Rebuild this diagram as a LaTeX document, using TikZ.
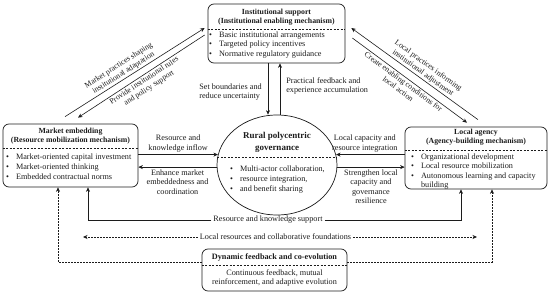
\documentclass[tikz,border=0pt]{standalone}
\usepackage{fontspec}
\setmainfont{Liberation Serif}
\usepackage{tikz}
\usetikzlibrary{positioning, arrows.meta, shapes.geometric, calc}
\definecolor{ink}{RGB}{28,28,28}
\tikzset{
  box/.style      ={rectangle, rounded corners=6pt, draw=ink, line width=0.7pt, inner sep=0pt},
  govshape/.style ={ellipse, draw=ink, line width=0.7pt, inner sep=0pt,
                    minimum width=120pt, minimum height=100pt},
  boxtitle/.style ={font=\fontsize{7.8}{9}\selectfont\bfseries, align=center, inner sep=0pt, text=ink},
  boxlist/.style  ={font=\fontsize{8.2}{9.6}\selectfont, inner sep=0pt, anchor=west, text=ink},
  sep/.style      ={dash pattern=on 2pt off 1.5pt, line width=0.5pt, color=ink},
  arr/.style      ={->, >={Stealth[length=4.5pt, width=4pt]}, line width=0.6pt, color=ink},
  darr/.style     ={arr, dash pattern=on 1.5pt off 1.5pt},
  lbl/.style      ={font=\fontsize{8.2}{9.6}\selectfont, align=center, inner sep=2pt, text=ink},
  slbl/.style     ={lbl, font=\fontsize{7.8}{9}\selectfont, inner sep=1.5pt, sloped},
}
\newcommand{\blist}[1]{\begin{tabular}{@{}l@{\hspace{7pt}}l@{}}#1\end{tabular}}

\begin{document}
\begin{tikzpicture}[x=1pt, y=-1pt]
\useasboundingbox (0,0) rectangle (550,292);
\node[box, minimum width=137pt, minimum height=59pt] (inst) at (276.5,33.5) {};
\node[boxtitle] (instT) at (276.5,17) {Institutional support\\(Institutional enabling mechanism)};
\draw[sep] ([yshift=4pt]inst.west) -- ([yshift=4pt]inst.east);
\node[boxlist] (instL) at (209,45) {\blist{\textbullet & Basic institutional arrangements\\
  \textbullet & Targeted policy incentives\\ \textbullet & Normative regulatory guidance}};
\node[box, minimum width=135pt, minimum height=63pt] (market) at (70.5,155.5) {};
\node[boxtitle] (marketT) at (70.5,136) {Market embedding\\(Resource mobilization mechanism)};
\draw[sep] ([yshift=7.5pt]market.west) -- ([yshift=7.5pt]market.east);
\node[boxlist] (marketL) at (6,167.5) {\blist{\textbullet & Market-oriented capital investment\\
  \textbullet & Market-oriented thinking\\ \textbullet & Embedded contractual norms}};
\node[box, minimum width=142pt, minimum height=62pt] (local) at (476,158) {};
\node[boxtitle] (localT) at (476,137) {Local agency\\(Agency-building mechanism)};
\draw[sep] ([yshift=8pt]local.west) -- ([yshift=8pt]local.east);
\node[boxlist] (localL) at (411,171.5) {\blist{\textbullet & Organizational development\\
  \textbullet & Local resource mobilization\\ \textbullet & Autonomous learning and capacity\\ & building}};
\node[govshape] (gov) at (277,165) {};
\node[boxtitle, font=\fontsize{9}{12}\selectfont\bfseries] (govT) at (277,142.5) {Rural polycentric\\governance};
\draw[sep] (gov.173) -- (gov.7);
\node[boxlist] (govL) at (230,179.5) {\blist{\textbullet & Multi-actor collaboration,\\
  \textbullet & resource integration,\\ \textbullet & and benefit sharing}};
\node[box, minimum width=145pt, minimum height=42pt] (dyn) at (274.5,270) {};
\node[boxtitle, font=\fontsize{8.2}{9}\selectfont\bfseries] (dynT) at (274.5,257) {Dynamic feedback and co-evolution};
\draw[sep] ([yshift=5pt]dyn.west) -- ([yshift=5pt]dyn.east);
\node[lbl, inner sep=0pt] (dynL) at (274.5,278) {Continuous feedback, mutual\\reinforcement, and adaptive evolution};

\draw[arr] ([xshift=-8.5pt]inst.south) -- ([xshift=-9pt]gov.north)
  node[lbl, midway, left, align=left, xshift=-4pt, yshift=-3pt] {Set boundaries and\\reduce uncertainty};
\draw[arr] ([xshift=3pt]gov.north) -- ([xshift=3.5pt]inst.south)
  node[lbl, midway, right, align=left, xshift=4pt, yshift=3pt] {Practical feedback and\\experience accumulation};
\draw[arr] (market.east |- gov.170) -- (gov.170) node[lbl, midway, above] {Resource and\\knowledge inflow};
\draw[arr] (gov.182) -- (market.east |- gov.182) node[lbl, midway, below] {Enhance market\\embeddedness and\\coordination};
\draw[arr] (local.west |- gov.10) -- (gov.10) node[lbl, pos=0.58, above] {Local capacity and\\resource integration};
\draw[arr] (gov.358) -- (local.west |- gov.358) node[lbl, midway, below] {Strengthen local\\capacity and\\governance\\resilience};
\draw[arr] ([xshift=-5.5pt, yshift=7pt]market.north) -- ([xshift=-3pt, yshift=5.5pt]inst.west)
  node[slbl, pos=0.44, above] {Market practices shaping\\institutional adaptation};
\draw[arr, <-] ([xshift=7.5pt, yshift=6pt]market.north) -- ([xshift=-3pt, yshift=-1.5pt]inst.west)
  node[slbl, midway, below] {Provide institutional rules\\and policy support};
\draw[arr, <-] ([xshift=6pt, yshift=5.5pt]inst.east) -- ([xshift=2pt, yshift=7pt]local.north)
  node[slbl, pos=0.54, above] {Local practices informing\\institutional adjustment};
\draw[arr] ([xshift=7pt, yshift=-4.5pt]inst.east) -- ([xshift=-9pt, yshift=4pt]local.north)
  node[slbl, pos=0.47, below] {Create enabling conditions for\\local action};

\node[lbl] (rks) at (268,220) {Resource and knowledge support};
\draw[arr] (rks.west) -| ([xshift=17.5pt]market.south);
\draw[arr] (rks.east) -| ([xshift=-15pt]local.south);
\node[lbl] (lrc) at (275.5,237) {Local resources and collaborative foundations};
\coordinate (lrcW) at (83,237);
\coordinate (lrcE) at (477,237);
\draw[darr] (lrc.west) -- (lrcW);
\draw[darr] (lrc.east) -- (lrcE);
\draw[darr] ([yshift=8pt]dyn.west) -| ([xshift=-12.5pt]market.south);
\draw[darr] ([yshift=8pt]dyn.east) -| ([xshift=16pt]local.south);
\end{tikzpicture}
\end{document}
